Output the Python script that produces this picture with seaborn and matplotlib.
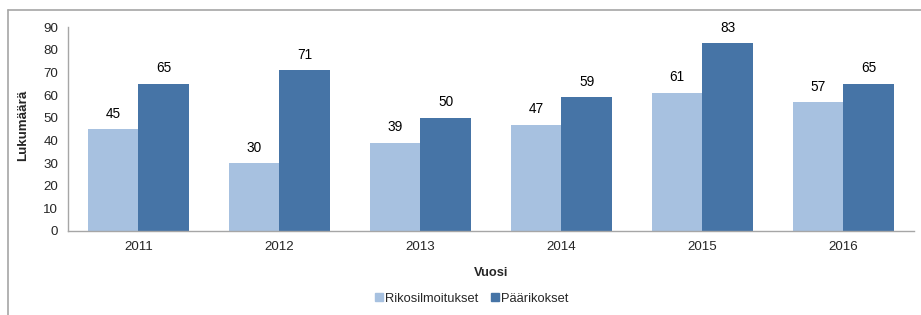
import seaborn as sns
import pandas as pd
import matplotlib.pyplot as plt
from matplotlib.lines import Line2D

years = ["2011", "2012", "2013", "2014", "2015", "2016"]
rikosilmoitukset = [45, 30, 39, 47, 61, 57]
paarikokset = [65, 71, 50, 59, 83, 65]
series_names = ["Rikosilmoitukset", "Päärikokset"]
colors = ["#a7c1e0", "#4674a6"]

sns.set_style("white")
plt.rcParams['font.family'] = ['Liberation Sans', 'DejaVu Sans']

df = pd.DataFrame({
    "Vuosi": years * 2,
    "Lukumäärä": rikosilmoitukset + paarikokset,
    "sarja": [series_names[0]] * len(years) + [series_names[1]] * len(years),
})

fs = 9.3
fig = plt.figure(figsize=(9.21, 3.15), dpi=100)
ax = fig.add_axes([0.0738, 0.2667, 0.9186, 0.6473])

sns.barplot(data=df, x="Vuosi", y="Lukumäärä", hue="sarja", palette=colors,
            width=0.72, saturation=1, linewidth=0, ax=ax, legend=False)

for cont in ax.containers:
    ax.bar_label(cont, padding=6, fontsize=fs + 0.5, color="#000000")

ax.set_ylim(0, 90)
ax.set_yticks(range(0, 91, 10))
ax.set_xlim(-0.5, 5.5)
ax.tick_params(axis="both", labelsize=fs + 0.3, length=0, pad=7)
ax.set_xlabel("Vuosi", fontsize=fs, fontweight="bold")
ax.set_ylabel("Lukumäärä", fontsize=fs + 0.3, fontweight="bold")
ax.xaxis.set_label_coords(0.5, -0.176)
ax.yaxis.set_label_coords(-0.046, 0.52)
sns.despine(ax=ax, top=True, right=True)
for s in ["left", "bottom"]:
    ax.spines[s].set_color("#a6a6a6")
    ax.spines[s].set_linewidth(1.0)

handles = [plt.Rectangle((0, 0), 1, 1, color=c) for c in colors]
fig.legend(handles, series_names, loc="center", bbox_to_anchor=(0.512, 0.051),
           ncol=2, frameon=False, fontsize=fs, handlelength=0.6, handleheight=0.6,
           handletextpad=0.15, columnspacing=1.0)

# outer chart border (only top and left visible in the crop)
fig.add_artist(Line2D([0.0087, 1.0], [0.968, 0.968], color="#a6a6a6", lw=1.2,
                      transform=fig.transFigure))
fig.add_artist(Line2D([0.0087, 0.0087], [0.0, 0.968], color="#a6a6a6", lw=1.2,
                      transform=fig.transFigure))

fig.savefig("out.png", dpi=100)
